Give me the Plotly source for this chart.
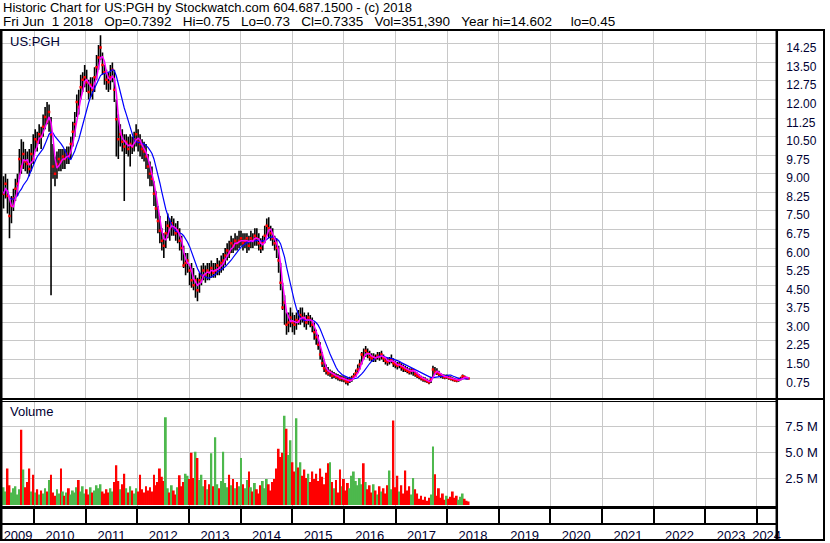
import plotly.graph_objects as go
import pandas as pd

# ---------------- data ----------------
header1 = "Historic Chart for US:PGH by Stockwatch.com 604.687.1500 - (c) 2018"
header2 = "Fri Jun  1 2018   Op=0.7392   Hi=0.75   Lo=0.73   Cl=0.7335   Vol=351,390   Year hi=14.602     lo=0.45"
ticker = "US:PGH"
volume_title = "Volume"

close = [8.2, 8.6, 8.1, 7.3, 7.7, 8.0, 8.4, 8.6, 9.6, 9.3,
         9.8, 9.5, 9.4, 9.2, 9.8, 9.6, 10.4, 10.3, 10.6, 10.5,
         10.9, 11.3, 11.1, 11.5, 10.6, 9.3, 9.0, 9.4, 9.6, 9.5,
         9.7, 9.6, 9.8, 9.7, 10.2, 10.7, 11.0, 11.9, 11.7, 12.5,
         12.8, 12.9, 12.7, 12.3, 12.6, 12.4, 12.9, 13.3, 13.7, 14.1,
         13.4, 13.1, 12.8, 12.7, 12.9, 13.2, 12.4, 11.2, 10.4, 10.6,
         10.3, 10.1, 10.3, 10.0, 10.2, 10.1, 10.4, 10.6, 10.3, 10.2,
         10.0, 9.9, 9.7, 9.3, 9.0, 8.8, 8.2, 7.6, 7.1, 6.7,
         6.3, 6.1, 6.6, 6.9, 6.8, 7.0, 6.8, 6.6, 6.7, 6.3,
         6.0, 5.3, 5.4, 5.5, 5.1, 4.7, 4.5, 4.7, 4.3, 4.7,
         4.9, 5.1, 4.9, 5.1, 5.0, 5.2, 5.0, 5.1, 5.3, 5.2,
         5.4, 5.5, 5.7, 5.9, 5.8, 6.2, 6.1, 6.3, 6.2, 6.3,
         6.4, 6.2, 6.3, 6.4, 6.1, 6.4, 6.3, 6.5, 6.4, 6.2,
         6.0, 6.2, 6.5, 6.9, 6.8, 6.6, 6.4, 6.2, 6.0, 5.5,
         4.6, 3.6, 3.8, 2.9, 3.0, 3.2, 3.0, 2.9, 3.1, 3.05,
         3.3, 3.2, 3.1, 3.0, 3.2, 3.1, 2.9, 2.6, 2.4, 2.1,
         1.7, 1.35, 1.15, 1.05, 0.95, 1.0, 0.85, 0.9, 0.8, 0.78,
         0.72, 0.75, 0.7, 0.62, 0.6, 0.68, 0.72, 0.82, 0.95, 1.1,
         1.3, 1.7, 1.6, 1.85, 1.75, 1.6, 1.55, 1.6, 1.55, 1.65,
         1.6, 1.7, 1.55, 1.45, 1.4, 1.45, 1.5, 1.35, 1.3, 1.25,
         1.3, 1.2, 1.15, 1.1, 1.05, 1.0, 1.05, 1.08, 0.92, 0.85,
         0.8, 0.75, 0.7, 0.68, 0.62, 0.58, 0.7, 1.1, 1.0, 0.98,
         0.92, 0.85, 0.82, 0.78, 0.8, 0.75, 0.72, 0.7, 0.66, 0.65,
         0.68, 0.72, 0.82, 0.78, 0.74, 0.7335]

high = [8.9, 9.0, 8.8, 8.0, 8.1, 8.4, 8.8, 9.0, 10.0, 10.4,
        10.3, 10.0, 9.9, 10.0, 10.2, 10.6, 10.8, 10.7, 11.0, 10.9,
        11.4, 11.7, 11.9, 11.8, 11.3, 10.2, 9.7, 9.9, 10.0, 10.0,
        10.0, 10.0, 10.1, 10.1, 10.5, 11.1, 11.5, 12.2, 12.4, 13.0,
        13.1, 13.4, 13.2, 12.8, 12.9, 12.9, 13.3, 13.8, 14.2, 14.6,
        13.9, 13.4, 13.2, 13.1, 13.4, 13.5, 13.2, 12.0, 11.4, 11.0,
        10.8, 10.6, 10.6, 10.5, 10.6, 10.5, 10.7, 11.0, 10.8, 10.6,
        10.4, 10.3, 10.2, 9.8, 9.5, 9.3, 8.7, 8.3, 7.7, 7.3,
        6.8, 6.6, 7.1, 7.4, 7.2, 7.3, 7.2, 7.0, 7.1, 6.8,
        6.5, 6.1, 5.8, 5.8, 5.3, 5.4, 5.2, 4.9, 4.8, 5.0,
        5.3, 5.4, 5.3, 5.4, 5.4, 5.5, 5.4, 5.4, 5.6, 5.5,
        5.7, 5.8, 6.0, 6.2, 6.3, 6.5, 6.4, 6.6, 6.5, 6.7,
        6.7, 6.6, 6.6, 6.6, 6.5, 6.7, 6.6, 6.8, 6.8, 6.6,
        6.4, 6.5, 6.9, 7.2, 7.25, 6.9, 6.8, 6.5, 6.4, 6.1,
        5.4, 4.6, 4.1, 3.4, 3.4, 3.6, 3.4, 3.3, 3.4, 3.5,
        3.6, 3.6, 3.4, 3.3, 3.4, 3.3, 3.2, 3.0, 2.7, 2.5,
        2.2, 1.8, 1.5, 1.3, 1.2, 1.1, 1.05, 1.0, 0.95, 0.92,
        0.88, 0.86, 0.82, 0.78, 0.75, 0.8, 0.85, 0.95, 1.1, 1.3,
        1.5, 1.8, 1.95, 2.05, 1.95, 1.85, 1.75, 1.75, 1.7, 1.8,
        1.8, 1.85, 1.7, 1.6, 1.55, 1.6, 1.7, 1.55, 1.45, 1.4,
        1.4, 1.35, 1.3, 1.25, 1.2, 1.15, 1.15, 1.1, 1.05, 0.98,
        0.92, 0.85, 0.8, 0.78, 0.72, 0.68, 0.8, 1.25, 1.2, 1.15,
        1.05, 0.95, 0.92, 0.9, 0.9, 0.85, 0.82, 0.78, 0.75, 0.72,
        0.76, 0.8, 0.9, 0.86, 0.8, 0.75]

low = [7.6, 8.0, 7.4, 6.4, 7.0, 7.5, 7.9, 8.1, 8.8, 9.0,
       9.2, 9.1, 9.0, 8.9, 9.1, 9.4, 9.9, 9.9, 10.2, 10.0,
       10.5, 10.8, 11.0, 10.7, 4.1, 8.8, 8.5, 8.8, 9.1, 9.1,
       9.2, 9.2, 9.4, 9.4, 9.6, 10.1, 10.5, 11.3, 11.4, 12.0,
       12.3, 12.5, 12.3, 12.0, 12.1, 12.0, 12.3, 12.8, 13.2, 13.6,
       13.0, 12.6, 12.4, 12.3, 12.4, 12.7, 11.9, 9.7, 9.6, 10.1,
       9.9, 7.9, 9.8, 9.7, 9.3, 9.8, 9.9, 10.1, 9.9, 9.7,
       9.6, 9.5, 9.2, 8.8, 8.5, 8.5, 7.7, 7.2, 6.6, 6.2,
       5.9, 5.6, 6.0, 6.4, 6.3, 6.5, 6.5, 6.3, 6.2, 5.9,
       5.5, 5.2, 4.9, 5.0, 4.5, 4.4, 4.3, 4.0, 3.85, 4.2,
       4.5, 4.7, 4.6, 4.7, 4.7, 4.8, 4.8, 4.8, 4.9, 4.9,
       5.0, 5.1, 5.3, 5.5, 5.6, 5.8, 5.8, 5.9, 5.9, 6.0,
       6.1, 5.9, 6.0, 5.8, 5.9, 6.0, 6.0, 6.1, 6.1, 5.9,
       5.8, 5.9, 6.2, 6.5, 6.4, 6.3, 6.1, 5.9, 5.6, 5.0,
       4.3, 3.5, 2.9, 2.5, 2.6, 2.8, 2.6, 2.5, 2.7, 2.9,
       2.9, 3.0, 2.8, 2.7, 2.9, 2.8, 2.6, 2.3, 2.1, 1.9,
       1.5, 1.2, 1.0, 0.9, 0.85, 0.8, 0.72, 0.75, 0.7, 0.65,
       0.62, 0.6, 0.58, 0.5, 0.45, 0.55, 0.6, 0.7, 0.8, 0.95,
       1.1, 1.3, 1.5, 1.6, 1.55, 1.45, 1.4, 1.4, 1.4, 1.5,
       1.45, 1.5, 1.4, 1.3, 1.25, 1.3, 1.35, 1.2, 1.15, 1.1,
       1.15, 1.05, 1.0, 1.0, 0.95, 0.9, 0.9, 0.85, 0.8, 0.75,
       0.7, 0.65, 0.6, 0.58, 0.55, 0.5, 0.55, 0.75, 0.9, 0.88,
       0.82, 0.75, 0.72, 0.7, 0.72, 0.68, 0.65, 0.62, 0.6, 0.58,
       0.6, 0.65, 0.7, 0.72, 0.7, 0.73]

volume_m = [1.7, 1.3, 3.5, 1.9, 1.2, 1.6, 1.8, 1.0, 1.5, 7.2,
            3.4, 1.7, 2.2, 3.5, 1.3, 2.9, 1.2, 1.5, 1.0, 1.4,
            1.1, 1.6, 1.3, 2.4, 2.9, 1.2, 0.9, 1.5, 1.1, 3.5,
            1.3, 0.9, 1.2, 1.6, 1.0, 1.4, 1.2, 1.7, 2.4, 1.3,
            1.8, 1.1, 1.5, 1.0, 1.7, 1.2, 1.4, 1.9, 1.6, 2.0,
            1.3, 1.1, 1.5, 1.2, 1.6, 1.3, 2.2, 3.8, 2.3, 1.5,
            2.0, 3.0, 1.6, 1.2, 1.8, 1.4, 1.1, 1.6, 1.3, 2.9,
            1.5, 1.2, 1.8, 1.4, 1.7, 1.3, 2.9, 1.9, 2.2, 3.5,
            2.7, 2.3, 8.4, 1.6, 1.2, 1.9, 1.4, 1.0, 1.7, 2.85,
            1.8, 2.2, 3.0, 2.8, 2.5, 5.0, 2.6, 5.1, 4.5, 2.4,
            2.9, 1.8, 2.4, 1.5, 2.0, 4.95, 1.8, 6.5, 2.0, 1.6,
            2.3, 5.1, 2.1, 1.7, 2.9, 1.9, 2.5, 1.6, 2.2, 1.8,
            4.5, 2.0, 1.6, 2.4, 3.2, 1.7, 1.3, 2.1, 1.5, 1.1,
            1.9, 2.3, 1.6, 2.5, 2.0, 1.4, 2.2, 2.5, 3.5, 5.4,
            4.6, 5.0, 8.55, 7.3, 4.8, 6.2, 4.1, 3.2, 8.3, 3.6,
            4.1, 2.8, 3.4, 2.6, 3.0, 2.2, 3.2, 2.5, 3.0, 2.3,
            3.5, 2.7, 2.0, 3.1, 4.0, 4.1, 2.2, 1.6, 2.4, 1.2,
            3.4, 1.8, 2.5, 1.4, 2.1, 1.6, 2.8, 3.2, 2.3, 1.9,
            2.6, 2.0, 4.0, 2.2, 1.5, 1.9, 1.2, 2.0, 1.4, 1.0,
            1.8, 1.3, 1.6, 1.1, 1.9, 3.3, 1.5, 8.1, 1.7, 2.8,
            1.3, 1.9, 1.1, 3.3, 1.4, 1.8, 1.0, 2.6, 1.5, 1.1,
            0.6, 0.9, 0.5, 0.8, 0.4, 0.7, 1.0, 5.6, 2.95, 0.9,
            1.6, 0.7, 1.1, 0.5, 0.9, 0.6, 0.8, 1.3, 0.7, 0.9,
            0.5, 0.8, 1.1, 0.6, 0.4, 0.35]

price_ticks = [0.75, 1.50, 2.25, 3.00, 3.75, 4.50, 5.25, 6.00, 6.75, 7.50,
               8.25, 9.00, 9.75, 10.50, 11.25, 12.00, 12.75, 13.50, 14.25]
volume_ticks = [2.5, 5.0, 7.5]
volume_tick_labels = ["2.5 M", "5.0 M", "7.5 M"]
years = list(range(2009, 2025))

# ---------------- derived ----------------
bar_dates = pd.date_range(end="2018-06-01", periods=len(close), freq="14D")
s_close = pd.Series(close)
ma_short = s_close.rolling(3, min_periods=1).mean()
ma_long = s_close.rolling(10, min_periods=1).mean()

vol_colors = []
for i, c in enumerate(close):
    if i == 0 or c > close[i - 1]:
        vol_colors.append("#4DB84D")
    elif c < close[i - 1]:
        vol_colors.append("#FF0000")
    else:
        vol_colors.append("#A8A8A8")

hl_x, hl_y = [], []
for d, h, l in zip(bar_dates, high, low):
    hl_x += [d, d, None]
    hl_y += [l, h, None]

W, H = 830, 543
def fx(px):
    return px / W
def fy(py):
    return 1 - py / H

x_start = pd.Timestamp("2009-05-18")
x_end = pd.Timestamp("2024-05-17")
year_starts = [pd.Timestamp(f"{y}-01-01") for y in years[1:]]
label_pos = []
for y in years:
    a = max(pd.Timestamp(f"{y}-01-01"), x_start)
    b = min(pd.Timestamp(f"{y + 1}-01-01"), x_end)
    label_pos.append(a + (b - a) / 2)

PRICE_RANGE = [-0.075, 14.773]
PX_PER_UNIT = 369 / (PRICE_RANGE[1] - PRICE_RANGE[0])
LABEL_SHIFT = 4.3 / PX_PER_UNIT   # labels sit just under their grid line
label_range = [PRICE_RANGE[0] + LABEL_SHIFT, PRICE_RANGE[1] + LABEL_SHIFT]

FONT = "Liberation Sans, Arial, sans-serif"
GRID = "#C8C8C8"
TXT = "#000033"

fig = go.Figure()
fig.add_trace(go.Scatter(x=hl_x, y=hl_y, mode="lines", line=dict(color="black", width=1.6),
                         xaxis="x", yaxis="y", hoverinfo="skip", showlegend=False))
fig.add_trace(go.Scatter(x=bar_dates, y=close, mode="markers",
                         marker=dict(symbol="square", size=2.5, color="#FF0000", line=dict(width=0)),
                         xaxis="x", yaxis="y", showlegend=False))
fig.add_trace(go.Scatter(x=bar_dates, y=ma_long, mode="lines", line=dict(color="#0000FF", width=1.2),
                         xaxis="x", yaxis="y", showlegend=False))
fig.add_trace(go.Scatter(x=bar_dates, y=ma_short, mode="lines", line=dict(color="#FF00FF", width=1.5),
                         xaxis="x", yaxis="y", showlegend=False))
fig.add_trace(go.Scatter(x=bar_dates, y=close, mode="lines", line=dict(width=0, color="rgba(0,0,0,0)"),
                         xaxis="x", yaxis="y3", hoverinfo="skip", showlegend=False))
fig.add_trace(go.Bar(x=bar_dates, y=volume_m, marker=dict(color=vol_colors, line=dict(width=0)),
                     xaxis="x2", yaxis="y2", showlegend=False))

shapes = []
def hline(py, x0, x1, w):
    shapes.append(dict(type="line", xref="paper", yref="paper", x0=fx(x0), x1=fx(x1),
                       y0=fy(py), y1=fy(py), line=dict(color="black", width=w)))
def vline(px, y0, y1, w):
    shapes.append(dict(type="line", xref="paper", yref="paper", x0=fx(px), x1=fx(px),
                       y0=fy(y0), y1=fy(y1), line=dict(color="black", width=w)))

hline(30, 0, 830, 2)
hline(400.5, 0, 830, 2)
hline(403, 0, 781, 1)
hline(509.5, 0, 781, 3)
hline(526, 0, 781, 2)
hline(542, 0, 830, 2)
vline(1, 30, 543, 3)
vline(829, 30, 543, 2)
vline(781.5, 30, 543, 2.5)

annotations = [
    dict(text=header1, x=fx(1), y=fy(8), xanchor="left", yanchor="middle", size=13, color="black"),
    dict(text=header2.replace(" ", "\u00a0"), x=fx(1), y=fy(22), xanchor="left", yanchor="middle",
         size=13.5, color="black"),
    dict(text=ticker, x=fx(8), y=fy(41.5), xanchor="left", yanchor="middle", size=13, color=TXT),
    dict(text=volume_title, x=fx(8), y=fy(413), xanchor="left", yanchor="middle", size=13, color=TXT),
]
for a in annotations:
    sz = a.pop("size")
    col = a.pop("color")
    a.update(xref="paper", yref="paper", showarrow=False,
             font=dict(family=FONT, size=sz, color=col))

fig.update_layout(
    width=W, height=H, autosize=False,
    margin=dict(l=0, r=0, t=0, b=0),
    paper_bgcolor="white", plot_bgcolor="white",
    bargap=0.05, showlegend=False,
    shapes=shapes, annotations=annotations,
    font=dict(family=FONT, color=TXT),
    xaxis=dict(domain=[fx(2), fx(781)], range=[x_start, x_end], type="date", anchor="y",
               tickmode="array", tickvals=year_starts, showticklabels=False, ticks="",
               showgrid=True, gridcolor=GRID, gridwidth=1, zeroline=False, showline=False),
    yaxis=dict(domain=[fy(400), fy(31)], range=PRICE_RANGE, anchor="x", side="right",
               tickmode="array", tickvals=price_ticks, showticklabels=False, ticks="",
               showgrid=True, gridcolor=GRID, gridwidth=1, zeroline=False, showline=False),
    yaxis3=dict(domain=[fy(400), fy(31)], range=label_range, anchor="x", overlaying="y", side="right",
                tickmode="array", tickvals=price_ticks, ticktext=[f"{v:.2f}" for v in price_ticks],
                ticks="", ticklabelstandoff=9, tickfont=dict(family=FONT, size=12, color=TXT),
                showgrid=False, zeroline=False, showline=False),
    xaxis2=dict(domain=[fx(2), fx(781)], range=[x_start, x_end], type="date", anchor="y2",
                tickmode="array", tickvals=label_pos, ticktext=[str(y) for y in years],
                ticks="", ticklabelstandoff=18, showgrid=False, zeroline=False, showline=False,
                tickfont=dict(family=FONT, size=13, color=TXT),
                minor=dict(dtick="M12", tick0="2010-01-01", ticks="outside", ticklen=16,
                           tickwidth=2, tickcolor="black", showgrid=True, gridcolor=GRID, gridwidth=1)),
    yaxis2=dict(domain=[fy(510), fy(403)], range=[-0.296, 9.914], anchor="x2", side="right",
                tickmode="array", tickvals=volume_ticks, ticktext=volume_tick_labels,
                ticks="", ticklabelstandoff=8, tickfont=dict(family=FONT, size=13, color=TXT),
                showgrid=True, gridcolor=GRID, gridwidth=1, zeroline=False, showline=False),
)

fig.write_html("out.html", config={"displayModeBar": False},
               post_script="document.body.style.margin='0';document.body.style.overflow='hidden';")
